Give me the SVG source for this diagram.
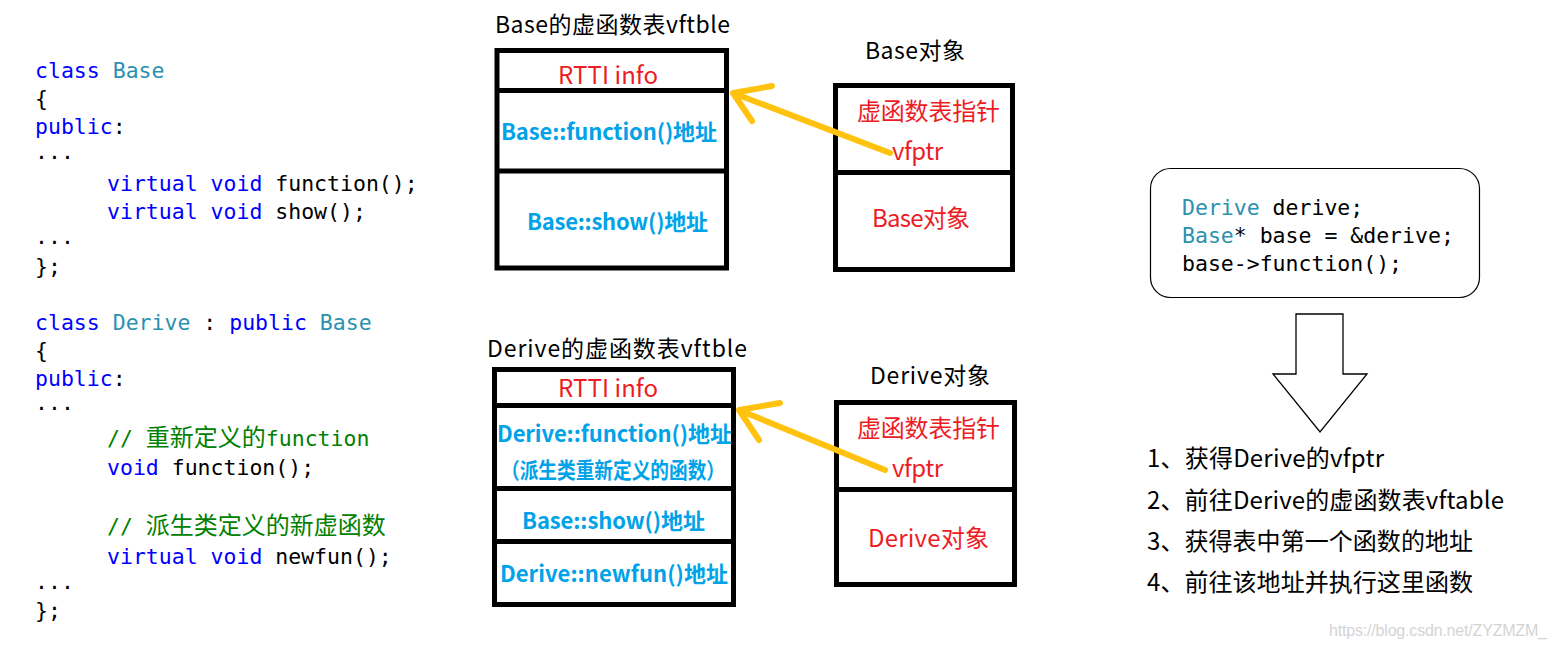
<svg xmlns="http://www.w3.org/2000/svg" width="1557" height="649" viewBox="0 0 1557 649">
<style>
.code{font-family:"DejaVu Sans Mono","Noto Sans CJK SC",monospace;font-size:21.5px;white-space:pre;fill:#000}
.kw{fill:#0000FF}
.ty{fill:#2B91AF}
.cm{fill:#008000}
.cjk{font-family:"Noto Sans CJK SC",sans-serif;font-size:24px}
.lbl{font-family:"Noto Sans CJK SC","Noto Sans",sans-serif}
.title{font-size:23px;fill:#000}
.red{fill:#ED1C24;font-size:24px}
.blue{fill:#00A2E8;font-size:22px;font-weight:bold}
.box{fill:none;stroke:#000;stroke-width:5}
.ptr{stroke:#FFC20E;stroke-width:6;stroke-linecap:round;stroke-linejoin:round;fill:none}
.step{font-size:24px;fill:#000}
</style>
<rect width="1557" height="649" fill="#fff"/>

<g id="code-base">
<text class="code" x="35" y="78"><tspan class="kw">class</tspan> <tspan class="ty">Base</tspan></text>
<text class="code" x="35" y="106">{</text>
<text class="code" x="35" y="134"><tspan class="kw">public</tspan>:</text>
<text class="code" x="35" y="159">...</text>
<text class="code" x="107" y="191"><tspan class="kw">virtual</tspan> <tspan class="kw">void</tspan> function();</text>
<text class="code" x="107" y="219"><tspan class="kw">virtual</tspan> <tspan class="kw">void</tspan> show();</text>
<text class="code" x="35" y="244">...</text>
<text class="code" x="35" y="274">};</text>
</g>

<g id="code-derive">
<text class="code" x="35" y="330"><tspan class="kw">class</tspan> <tspan class="ty">Derive</tspan> : <tspan class="kw">public</tspan> <tspan class="ty">Base</tspan></text>
<text class="code" x="35" y="358">{</text>
<text class="code" x="35" y="386"><tspan class="kw">public</tspan>:</text>
<text class="code" x="35" y="410">...</text>
<text class="code cm" x="107" y="446">// <tspan class="cjk">重新定义的</tspan>function</text>
<text class="code" x="107" y="475"><tspan class="kw">void</tspan> function();</text>
<text class="code cm" x="107" y="534">// <tspan class="cjk">派生类定义的新虚函数</tspan></text>
<text class="code" x="107" y="564"><tspan class="kw">virtual</tspan> <tspan class="kw">void</tspan> newfun();</text>
<text class="code" x="35" y="589">...</text>
<text class="code" x="35" y="618">};</text>
</g>

<g id="base-vtable" class="lbl">
<text class="title" x="495" y="33" textLength="235">Base的虚函数表vftble</text>
<rect class="box" x="497" y="50.5" width="229.5" height="217.5"/>
<line class="box" x1="497" y1="90.5" x2="726.5" y2="90.5"/>
<line class="box" x1="497" y1="171" x2="726.5" y2="171"/>
<text class="red" x="558" y="84" textLength="100">RTTI info</text>
<text class="blue" x="501" y="140" textLength="216">Base::function()地址</text>
<text class="blue" x="527" y="230" textLength="181">Base::show()地址</text>
</g>

<g id="base-object" class="lbl">
<text class="title" x="865" y="59" font-size="24" textLength="100">Base对象</text>
<rect class="box" x="835.5" y="85.5" width="177" height="184"/>
<line class="box" x1="835.5" y1="172.5" x2="1012.5" y2="172.5"/>
<text class="red" x="857" y="120" textLength="143">虚函数表指针</text>
<text class="red" x="892" y="160" textLength="51">vfptr</text>
<text class="red" x="872" y="227" textLength="98">Base对象</text>
</g>

<g id="derive-vtable" class="lbl">
<text class="title" x="487" y="357" textLength="260">Derive的虚函数表vftble</text>
<rect class="box" x="494.5" y="369.5" width="239" height="235"/>
<line class="box" x1="494.5" y1="405.5" x2="733.5" y2="405.5"/>
<line class="box" x1="494.5" y1="488.5" x2="733.5" y2="488.5"/>
<line class="box" x1="494.5" y1="541.5" x2="733.5" y2="541.5"/>
<text class="red" x="558" y="397" textLength="100">RTTI info</text>
<text class="blue" x="497" y="442" textLength="235">Derive::function()地址</text>
<text class="blue" x="501" y="478" font-size="19.5" textLength="224" lengthAdjust="spacingAndGlyphs">（派生类重新定义的函数）</text>
<text class="blue" x="522" y="529" textLength="183">Base::show()地址</text>
<text class="blue" x="500" y="582" textLength="228">Derive::newfun()地址</text>
</g>

<g id="derive-object" class="lbl">
<text class="title" x="870" y="384" font-size="24" textLength="120">Derive对象</text>
<rect class="box" x="836.5" y="402.5" width="178" height="182"/>
<line class="box" x1="836.5" y1="489.5" x2="1014.5" y2="489.5"/>
<text class="red" x="857" y="437" textLength="143">虚函数表指针</text>
<text class="red" x="892" y="477" textLength="51">vfptr</text>
<text class="red" x="868" y="547" textLength="121">Derive对象</text>
</g>

<g id="connectors">
<path class="ptr" d="M890,153 L733,93 M772,86 L733,93 L752,121"/>
<path class="ptr" d="M885,470 L739,410 M780,403 L739,410 L759,440"/>
</g>

<g id="call-box">
<rect x="1150.5" y="168.5" width="329" height="129" rx="20" ry="20" fill="#fff" stroke="#000" stroke-width="1.2"/>
<text class="code" x="1182" y="215"><tspan class="ty">Derive</tspan> derive;</text>
<text class="code" x="1182" y="243"><tspan class="ty">Base</tspan>* base = &amp;derive;</text>
<text class="code" x="1182" y="271">base-&gt;function();</text>
</g>

<g id="block-arrow">
<polygon points="1296,314 1343,314 1343,374 1367,374 1320,432 1273,374 1296,374" fill="#fff" stroke="#000" stroke-width="1.3"/>
</g>

<g id="steps" class="lbl">
<text class="step" x="1147" y="467" textLength="237">1、获得Derive的vfptr</text>
<text class="step" x="1147" y="509" textLength="357">2、前往Derive的虚函数表vftable</text>
<text class="step" x="1147" y="550" textLength="326">3、获得表中第一个函数的地址</text>
<text class="step" x="1147" y="591" textLength="326">4、前往该地址并执行这里函数</text>
</g>

<text x="1329" y="636" font-family="Liberation Sans, Arial, sans-serif" font-size="16" fill="#D4D4D4" textLength="218">https://blog.csdn.net/ZYZMZM_</text>
</svg>
